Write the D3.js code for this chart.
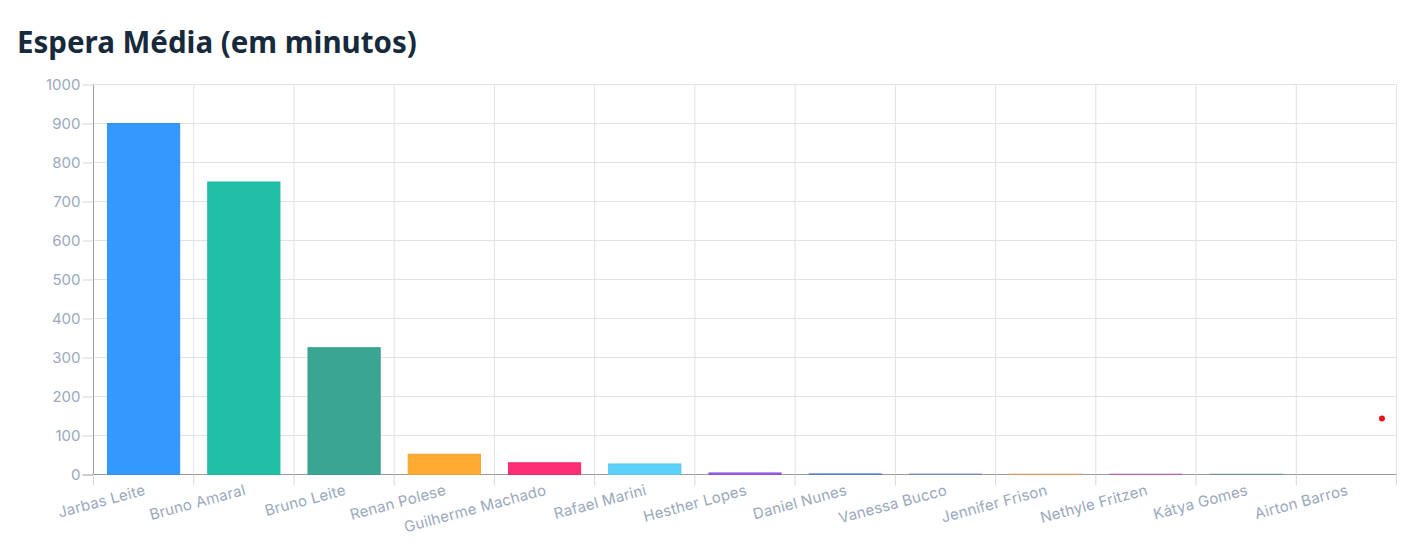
<!DOCTYPE html>
<html><head><meta charset="utf-8">
<script src="https://cdn.jsdelivr.net/npm/d3@7"></script>
<style>
body{margin:0;background:#fff;}
</style></head>
<body><svg id="c" width="1420" height="546"></svg>
<script>
const categories = ["Jarbas Leite","Bruno Amaral","Bruno Leite","Renan Polese","Guilherme Machado","Rafael Marini","Hesther Lopes","Daniel Nunes","Vanessa Bucco","Jennifer Frison","Nethyle Fritzen","Kátya Gomes","Airton Barros"];
const values = [900, 750, 325, 52, 30, 27, 4, 1.5, 1, 0.8, 0.8, 0.6, 0];
const colors = ["#3399ff","#20c0a8","#3ba593","#ffaa33","#ff2d73","#5cd1fa","#9b59e8","#5b82dd","#7f8fc0","#e8a070","#c070b0","#809898","#9aa9bd"];
const yTicks = [0,100,200,300,400,500,600,700,800,900,1000];
const title = "Espera Média (em minutos)";
const marker = [{value: 142, offset: 0.86}]; // small red dot seen in last category band

const svg = d3.select("#c");
const m = {l:93, r:1396, t:84, b:474};
const x = d3.scaleBand().domain(categories).range([m.l, m.r]).paddingInner(0.28).paddingOuter(0.14);
const xg = d3.scaleBand().domain(categories).range([m.l, m.r]);
const y = d3.scaleLinear().domain([0,1000]).range([m.b, m.t]);

svg.append("text").attr("x",17).attr("y",53).text(title)
  .attr("font-family","'Noto Sans', 'Open Sans', sans-serif").attr("font-weight","bold")
  .attr("font-size",29.5).attr("fill","#172a3c");

// grid
const g = svg.append("g");
g.selectAll(".hg").data(yTicks).join("line")
  .attr("x1",m.l).attr("x2",m.r).attr("y1",d=>y(d)+0.5).attr("y2",d=>y(d)+0.5)
  .attr("stroke","#e2e2e2");
const vlines = categories.map(c=>xg(c)).concat([m.r]);
g.selectAll(".vg").data(vlines).join("line")
  .attr("x1",d=>d+0.5).attr("x2",d=>d+0.5).attr("y1",m.t).attr("y2",m.b)
  .attr("stroke","#e2e2e2");

// axes
const yAxis = d3.axisLeft(y).tickValues(yTicks).tickFormat(d3.format("d")).tickSize(11).tickPadding(2);
const ya = svg.append("g").attr("transform",`translate(${m.l+0.5},0.5)`).call(yAxis);
ya.select(".domain").attr("stroke","#9a9a9a").attr("d",`M-0,${m.t}V${m.b}`);
ya.selectAll(".tick line").attr("stroke","#d6d6d6");
ya.select(".tick line").attr("stroke","#9a9a9a");
ya.selectAll("text").attr("font-family","Inter, sans-serif").attr("font-size",15).attr("fill","#9aa9bd");

const xa = svg.append("g").attr("transform",`translate(0.5,${m.b+0.5})`);
xa.append("line").attr("x1",m.l).attr("x2",m.r).attr("stroke","#9a9a9a");
xa.selectAll(".xt").data(vlines).join("line")
  .attr("x1",d=>d).attr("x2",d=>d).attr("y1",0).attr("y2",11).attr("stroke","#d6d6d6");
xa.selectAll(".xl").data(categories).join("text")
  .attr("transform",d=>`translate(${xg(d)+xg.bandwidth()/2-1},${7}) rotate(-15)`)
  .attr("text-anchor","end").attr("dy","0.9em")
  .attr("font-family","Inter, sans-serif").attr("font-size",15).attr("letter-spacing",0.2).attr("fill","#9aa9bd")
  .text(d=>d);

// bars (drawn above the axis line)
svg.selectAll(".bar").data(values).join("rect")
  .attr("x",(d,i)=>x(categories[i])+0.5)
  .attr("y",d=>y(d)+0.5)
  .attr("width",x.bandwidth())
  .attr("height",d=>Math.max(0,y(0)-y(d)))
  .attr("fill",(d,i)=>colors[i])
  .attr("stroke",(d,i)=>d3.color(colors[i]).darker(0.15))
  .attr("stroke-width",1);

// marker
svg.selectAll(".mk").data(marker).join("circle")
  .attr("cx",d=>xg(categories[categories.length-1])+xg.bandwidth()*d.offset)
  .attr("cy",d=>y(d.value)).attr("r",3).attr("fill","#e8161b");
</script></body></html>
